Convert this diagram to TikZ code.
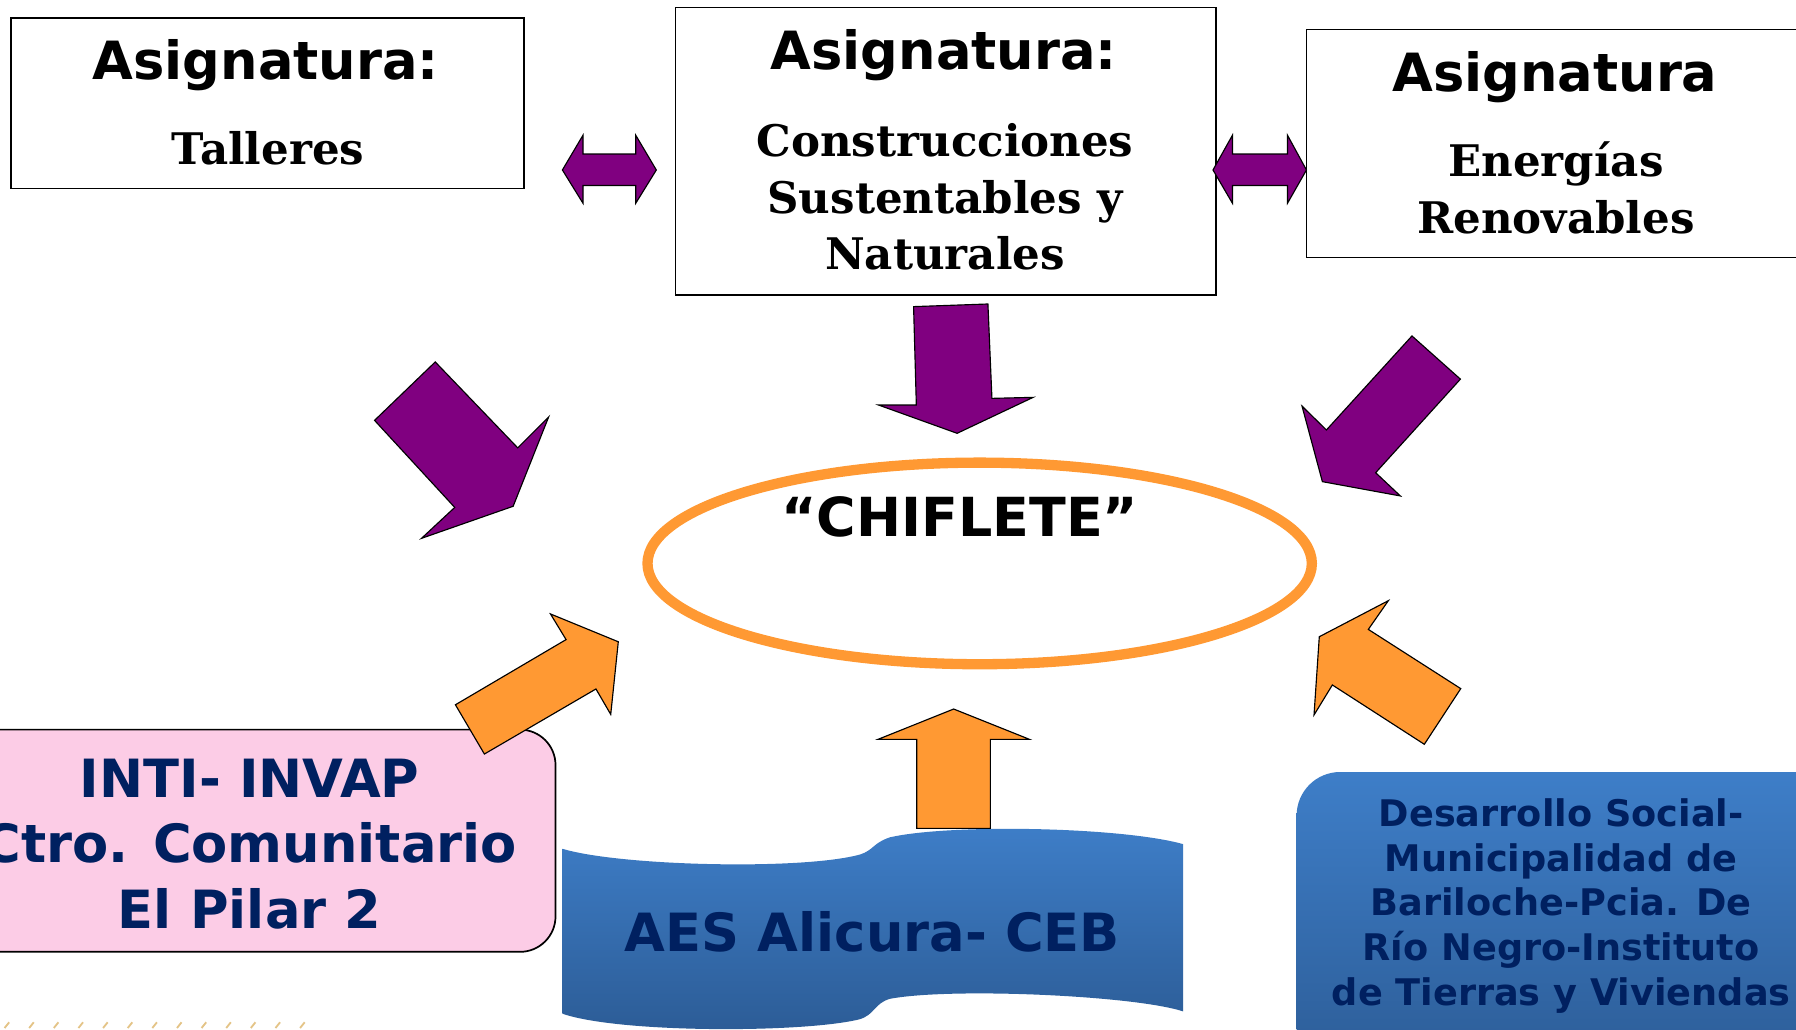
\documentclass[tikz,border=0pt]{standalone}
\usepackage{fontspec}
\newfontfamily\dsans{DejaVu Sans}
\newfontfamily\dserif{DejaVu Serif}
\definecolor{purp}{RGB}{128,0,128}
\definecolor{orng}{RGB}{255,153,51}
\definecolor{navy}{RGB}{0,32,96}
\definecolor{pinkf}{RGB}{252,204,230}
\definecolor{bluetop}{RGB}{62,126,200}
\definecolor{bluebot}{RGB}{44,92,150}
\definecolor{tanmark}{RGB}{228,196,135}
\begin{document}
\begin{tikzpicture}[x=1pt,y=-1pt,
  subjbox/.style={draw=black, line width=1.3pt, fill=white},
  purparrow/.style={fill=purp, draw=black, line width=1pt, line join=miter},
  orngarrow/.style={fill=orng, draw=black, line width=1pt, line join=miter},
  headtxt/.style={font=\dsans\bfseries\fontsize{46}{50}\selectfont, anchor=base, inner sep=0pt},
  sertxt/.style={font=\dserif\bfseries\fontsize{38}{49.6}\selectfont, anchor=base, inner sep=0pt, align=center},
  navytxt/.style={font=\dsans\bfseries\fontsize{46}{57}\selectfont, text=navy, anchor=base, inner sep=0pt, align=center},
  smallnavy/.style={font=\dsans\bfseries\fontsize{32}{39}\selectfont, text=navy, anchor=base, inner sep=0pt, align=center}]
\useasboundingbox (0,0) rectangle (1568,899);
\fill[white] (0,0) rectangle (1568,899);

% subject boxes
\node[subjbox, anchor=north west, minimum width=448pt, minimum height=149pt, inner sep=0pt] (talleres) at (9,15) {};
\node[subjbox, anchor=north west, minimum width=472pt, minimum height=251pt, inner sep=0pt] (constr) at (589,6) {};
\node[subjbox, anchor=north west, minimum width=460pt, minimum height=199pt, inner sep=0pt] (energias) at (1140,25) {};

% (multi-line nodes: base anchor = baseline of the last line)
\node[headtxt] (t1) at (232,69.8) {Asignatura:};
\node[sertxt] (t1b) at (234,144) {Talleres};
\node[headtxt] (t2) at (824,61) {Asignatura:};
\node[sertxt] (t2b) at (825,235.7) {Construcciones\\Sustentables y\\Naturales};
\node[headtxt] (t3) at (1357.5,80) {Asignatura};
\node[sertxt] (t3b) at (1358.5,203.7) {Energías\\Renovables};

% double arrows
\draw[purparrow] (491,148.4) -- (509,118) -- (509,134.5) -- (555,134.5) -- (555,118) -- (573,148.4) -- (555,177.5) -- (555,162) -- (509,162) -- (509,177.5) -- cycle;
\draw[purparrow] (1059,148.4) -- (1076,118) -- (1076,134.5) -- (1124,134.5) -- (1124,118) -- (1140.6,148.4) -- (1124,177.5) -- (1124,162) -- (1076,162) -- (1076,177.5) -- cycle;

% purple arrows towards the ellipse
\draw[purparrow] (797.6,267.7) -- (862.5,265.4) -- (866,347.8) -- (902,346.9) -- (835.6,378.3) -- (767,353.6) -- (800,353.6) -- cycle;
\draw[purparrow] (327,367) -- (380,316) -- (452,391) -- (479,364) -- (448,442) -- (368,470) -- (397,443) -- cycle;
\draw[purparrow] (1232.7,293.3) -- (1275,331) -- (1201,412.7) -- (1222.6,433) -- (1154.5,420.5) -- (1136.7,354.5) -- (1158,375.4) -- cycle;

% central ellipse
\draw[orng, line width=9pt, fill=white] (855.3,491.9) ellipse [x radius=290, y radius=88];
\node[font=\dsans\bfseries\fontsize{47}{55}\selectfont, anchor=base, inner sep=0pt] (chif) at (838,468) {“CHIFLETE”};

% pink box
\draw[fill=pinkf, draw=black, line width=1.5pt, rounded corners=31pt] (-40,637) rectangle (485,831);
\node[navytxt] (inti) at (218,810.4) {INTI- INVAP\\Ctro. Comunitario\\El Pilar 2};

% AES wave shape
\shade[top color=bluetop, bottom color=bluebot]
  (491,741) .. controls (540,756) and (700,760) .. (751,746)
  .. controls (763,742) and (762,736) .. (777,731)
  .. controls (830,719) and (980,722) .. (1033,737)
  -- (1033,883)
  .. controls (990,869) and (830,862) .. (777,872)
  .. controls (763,876) and (764,886) .. (750,890)
  .. controls (700,902) and (540,902) .. (491,885) -- cycle;
\node[navytxt] (aes) at (761.7,830.9) {AES Alicura- CEB};

% right blue box
\shade[top color=bluetop, bottom color=bluebot, rounded corners=38pt] (1132,674) rectangle (1640,940);
\node[smallnavy] (desarrollo) at (1363,877.7) {Desarrollo Social-\\Municipalidad de\\Bariloche-Pcia. De\\Río Negro-Instituto\\de Tierras y Viviendas};

% orange arrows
\draw[orngarrow] (397.6,615.3) -- (494.2,558.4) -- (480.6,536) -- (539.8,560.3) -- (533.2,623.7) -- (520.3,601.5) -- (422.9,658.3) -- cycle;
\draw[orngarrow] (800.3,723.2) -- (800.3,645.5) -- (766.5,645.5) -- (832.6,619) -- (898.8,645.5) -- (864.6,645.5) -- (864.6,723.2) -- cycle;
\draw[orngarrow] (1151.8,555.9) -- (1212.1,524.4) -- (1194.6,549.5) -- (1275.3,601.2) -- (1243.5,649.8) -- (1163.2,598) -- (1147.2,624.2) -- cycle;

% decorative marks bottom-left
\foreach \i in {0,...,12} {
  \draw[tanmark, line width=1.6pt] (4+\i*21.5,897.5) -- (8+\i*21.5,892.5);
}
\end{tikzpicture}
\end{document}
